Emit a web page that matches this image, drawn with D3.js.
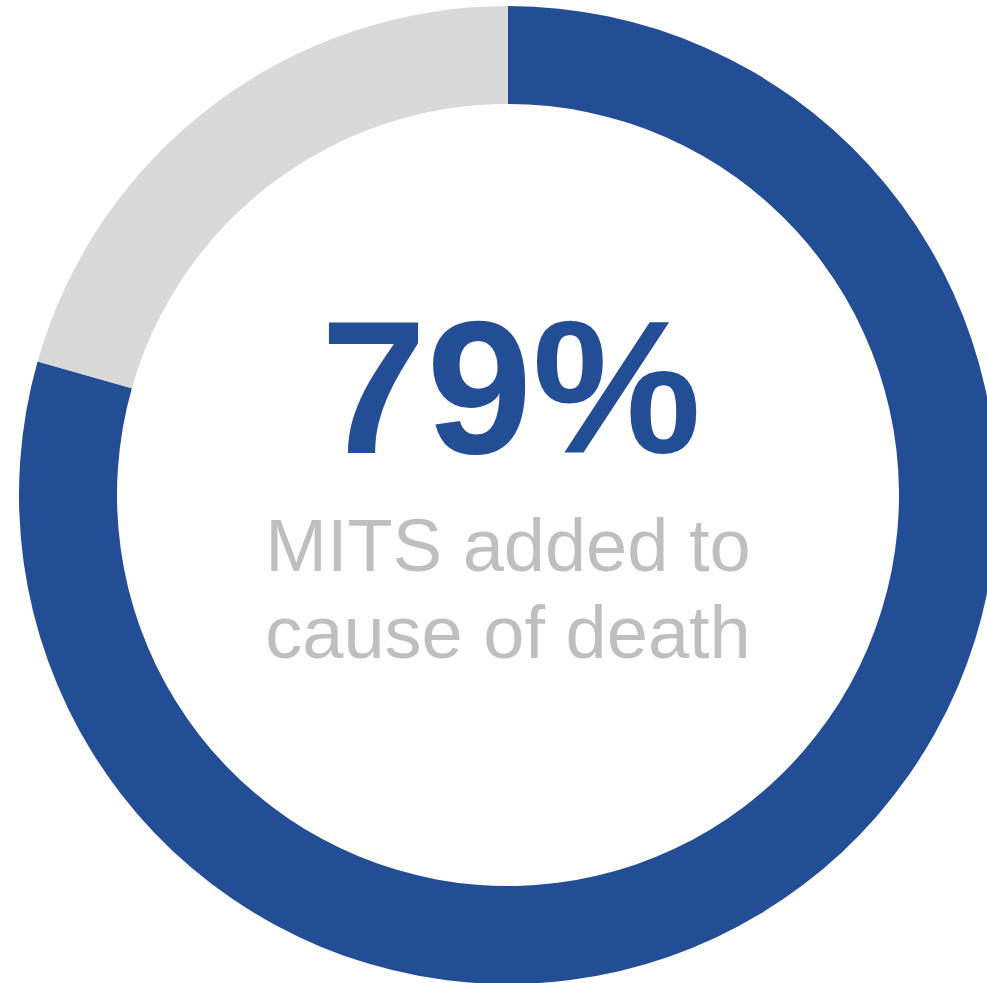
<!DOCTYPE html>
<html><head><meta charset="utf-8">
<script src="https://cdn.jsdelivr.net/npm/d3@7"></script>
<style>html,body{margin:0;padding:0;background:#fff;overflow:hidden}</style>
</head><body>
<svg id="chart" width="987" height="983"></svg>
<script>
const categories = ["MITS added to cause of death", "Other"];
const values = [79.4, 20.6];
const colors = ["#234E96", "#D9D9D9"];
const bigLabel = "79%";
const subLabel = ["MITS added to", "cause of death"];

const svg = d3.select("#chart");
const cx = 508, cy = 495, outerR = 489, innerR = 391;
const g = svg.append("g").attr("transform", `translate(${cx},${cy})`);

const pie = d3.pie().sort(null).value(d => d)(values);
const arc = d3.arc().innerRadius(innerR).outerRadius(outerR);
g.selectAll("path").data(pie).join("path")
  .attr("d", arc)
  .attr("fill", (d, i) => colors[i]);

g.append("text")
  .attr("x", 3).attr("y", 453 - cy)
  .attr("text-anchor", "middle")
  .attr("font-family", "Liberation Sans, Arial, sans-serif")
  .attr("font-weight", "bold")
  .attr("font-size", 190)
  .attr("fill", colors[0])
  .text(bigLabel);

g.selectAll("text.sub").data(subLabel).join("text")
  .attr("class", "sub")
  .attr("x", 0)
  .attr("y", (d, i) => 571 - cy + i * 87)
  .attr("text-anchor", "middle")
  .attr("font-family", "Liberation Sans, Arial, sans-serif")
  .attr("font-size", 74)
  .attr("fill", "#BFBFBF")
  .text(d => d);
</script>
</body></html>
